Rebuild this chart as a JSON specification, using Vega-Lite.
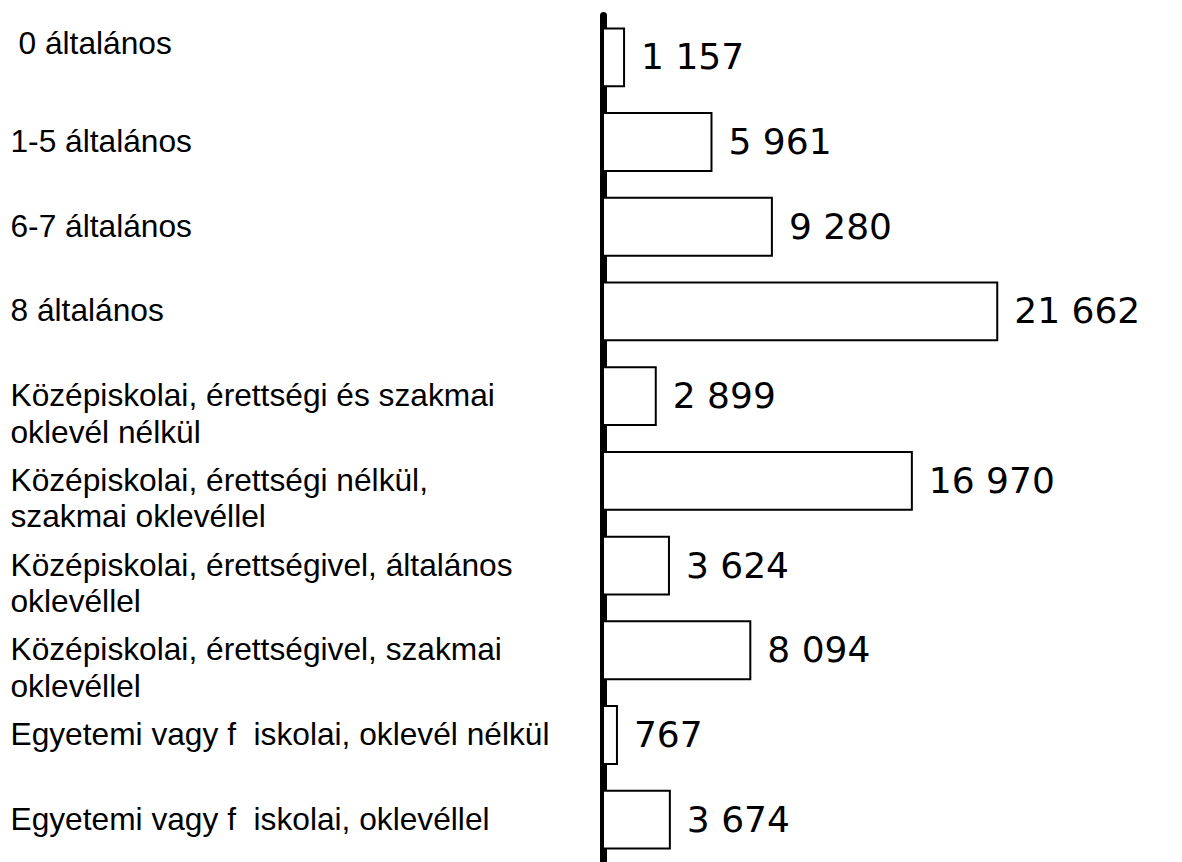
{
  "$schema": "https://vega.github.io/schema/vega-lite/v6.json",
  "width": 546,
  "height": 847,
  "autosize": {"type": "none"},
  "padding": {"left": 603, "top": 15, "right": 33, "bottom": 0},
  "background": "white",
  "config": {
    "view": {"stroke": null},
    "locale": {"number": {"decimal": ",", "thousands": " ", "grouping": [3], "currency": ["", ""]}}
  },
  "data": {
    "values": [
      {"category": "0 általános", "value": 1157},
      {"category": "1-5 általános", "value": 5961},
      {"category": "6-7 általános", "value": 9280},
      {"category": "8 általános", "value": 21662},
      {"category": "Középiskolai, érettségi és szakmai|oklevél nélkül", "value": 2899},
      {"category": "Középiskolai, érettségi nélkül,|szakmai oklevéllel", "value": 16970},
      {"category": "Középiskolai, érettségivel, általános|oklevéllel", "value": 3624},
      {"category": "Középiskolai, érettségivel, szakmai|oklevéllel", "value": 8094},
      {"category": "Egyetemi vagy f\u00a0\u00a0iskolai, oklevél nélkül", "value": 767},
      {"category": "Egyetemi vagy f\u00a0\u00a0iskolai, oklevéllel", "value": 3674}
    ]
  },
  "encoding": {
    "y": {
      "field": "category",
      "type": "nominal",
      "sort": null,
      "scale": {"paddingInner": 0.317, "paddingOuter": 0.158},
      "axis": {
        "title": null,
        "grid": false,
        "domain": true,
        "domainColor": "black",
        "domainWidth": 7,
        "domainCap": "round",
        "ticks": false,
        "tickSize": 0,
        "labelAlign": "left",
        "labelBaseline": "middle",
        "labelPadding": {"condition": {"test": "datum.value === '0 általános'", "value": 585}, "value": 593},
        "labelOffset": {"condition": {"test": "datum.value === '0 általános'", "value": -13}, "value": 0},
        "labelFont": "Liberation Sans",
        "labelFontSize": 31.7,
        "labelColor": "black",
        "labelLimit": 700,
        "labelLineHeight": 36.5,
        "labelOverlap": false,
        "labelExpr": "split(datum.label, '|')"
      }
    }
  },
  "layer": [
    {
      "mark": {"type": "bar", "fill": "white", "stroke": "black", "strokeWidth": 2},
      "encoding": {
        "x": {"field": "value", "type": "quantitative", "scale": {"domain": [0, 30000], "nice": false}, "axis": null}
      }
    },
    {
      "mark": {"type": "text", "align": "left", "baseline": "middle", "dx": 17, "dy": 1, "font": "DejaVu Sans", "fontSize": 36, "color": "black"},
      "encoding": {
        "x": {"field": "value", "type": "quantitative"},
        "text": {"field": "value", "type": "quantitative", "format": ",d"}
      }
    }
  ]
}
